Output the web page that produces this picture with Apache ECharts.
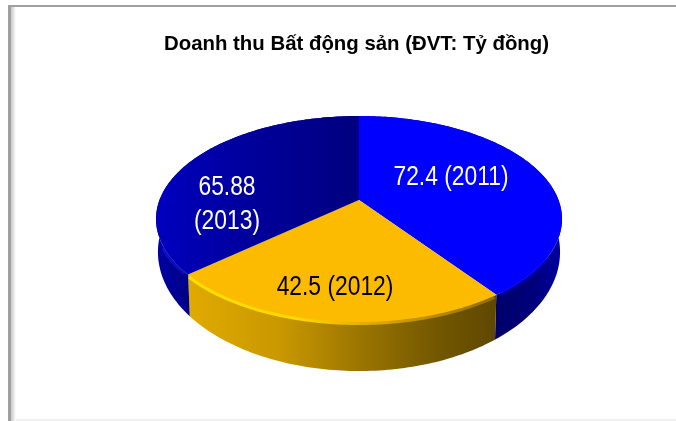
<!DOCTYPE html>
<html>
<head>
<meta charset="utf-8">
<style>
  html, body { margin: 0; padding: 0; background: #fff; }
  #chart { width: 676px; height: 421px; }
</style>
</head>
<body>
<div id="chart"></div>
<script src="https://cdn.jsdelivr.net/npm/echarts@6/dist/echarts.min.js"></script>
<script>
const years = ['2011', '2012', '2013'];
const revenue = [72.4, 42.5, 65.88];
const labelLines = [['72.4 (2011)'], ['42.5 (2012)'], ['65.88', '(2013)']];

// tilted disc: apex on screen plus a perspective factor for the circle
const disc = { x: 359, y: 200, rx: 199.5, ry: 99.5, k: 0.1845 };
const floor = { x: 359, y: 230, rx: 197.6, ry: 115, k: 0.1845 };
const labelCentres = [[451, 177], [335, 287], [227, 204]];
// part of the front edge that gets a bevel, per slice
const rimRanges = [[122, 143], [145, 228], [230, 244]];

const total = revenue.reduce((a, b) => a + b, 0);

const project = (d, deg) => {
  const t = deg * Math.PI / 180;
  const w = -Math.cos(t);
  const den = 1 - d.k * w;
  return [d.x + d.rx * Math.sin(t) / den, d.y + d.ry * w / den];
};

const arc = (d, from, to) => {
  const pts = [];
  for (let a = from; a <= to; a += 1) pts.push(project(d, a));
  pts.push(project(d, to));
  return pts;
};

const hGrad = (x, x2, stops) => ({
  type: 'linear', global: true, x: x, y: 0, x2: x2, y2: 0,
  colorStops: stops.map(s => ({ offset: s[0], color: s[1] }))
});

const topFills = [
  '#0000ff',
  '#fdbb00',
  hGrad(155, 359, [[0, '#0000c0'], [0.45, '#00009c'], [1, '#000080']])
];
const wallFills = [
  hGrad(497, 561, [[0, '#00006a'], [0.6, '#00007c'], [1, '#0000a0']]),
  hGrad(188, 497, [[0, '#e0aa00'], [0.3, '#c99800'], [0.55, '#9c7600'], [0.8, '#745800'], [1, '#5e4700']]),
  hGrad(155, 192, [[0, '#0000a8'], [1, '#000084']])
];
const rimColors = [
  'rgba(0,0,200,0.6)',
  hGrad(188, 497, [[0, '#ffe000'], [0.35, '#ffd800'], [0.6, '#e0a800'], [1, '#8f6c00']]),
  'rgba(30,30,225,0.45)'
];
const textColors = ['#fff', '#000', '#fff'];

const renderSlice = (params, api) => {
  const i = params.dataIndex;
  const start = api.value(1) / total * 360;
  const end = start + api.value(0) / total * 360;
  const top = arc(disc, start, end);
  const wall = top.concat(arc(floor, start, end).reverse());
  const lines = labelLines[i];
  const centre = labelCentres[i];

  const children = [
    { type: 'polygon', z2: 1, shape: { points: wall }, style: { fill: wallFills[i] } },
    { type: 'polygon', z2: 3, shape: { points: [[disc.x, disc.y]].concat(top) }, style: { fill: topFills[i] } }
  ];
  // soft bevel where the top meets the wall
  children.push({
    type: 'polyline', z2: 2,
    shape: { points: arc(disc, rimRanges[i][0], rimRanges[i][1]) },
    style: { fill: 'none', stroke: rimColors[i], lineWidth: 6 }
  });
  lines.forEach((line, n) => {
    children.push({
      type: 'text', z2: 5,
      x: centre[0],
      y: centre[1] + (n - (lines.length - 1) / 2) * 34,
      scaleX: 0.815,
      style: {
        text: line,
        fill: textColors[i],
        font: '28px "Liberation Sans", sans-serif',
        align: 'center',
        verticalAlign: 'middle'
      }
    });
  });
  return { type: 'group', children };
};

let running = 0;
const sliceData = revenue.map((v, i) => {
  const row = { name: years[i], value: [v, running] };
  running += v;
  return row;
});

const chart = echarts.init(document.getElementById('chart'), null, { renderer: 'canvas' });
chart.setOption({
  animation: false,
  backgroundColor: '#fff',
  title: {
    text: 'Doanh thu Bất động sản (ĐVT: Tỷ đồng)',
    left: 351.5,
    top: 29,
    textAlign: 'center',
    textStyle: { fontFamily: '"Liberation Sans", Arial, sans-serif', fontSize: 20.4, fontWeight: 'bold', color: '#000' }
  },
  graphic: [
    // sheet border with its inner shadow on the left
    { type: 'rect', silent: true, shape: { x: 8, y: 5, width: 668, height: 2 }, style: { fill: '#a0a0a0' } },
    { type: 'rect', silent: true, shape: { x: 8, y: 5, width: 3, height: 416 }, style: { fill: '#a0a0a0' } },
    {
      type: 'rect', silent: true, shape: { x: 11, y: 7, width: 5, height: 414 },
      style: { fill: { type: 'linear', x: 0, y: 0, x2: 1, y2: 0, colorStops: [{ offset: 0, color: '#c8c8c8' }, { offset: 1, color: '#ffffff' }] } }
    },
    { type: 'rect', silent: true, shape: { x: 16, y: 419, width: 660, height: 2 }, style: { fill: '#f0f0f0' } }
  ],
  series: [{
    type: 'custom',
    coordinateSystem: 'none',
    renderItem: renderSlice,
    data: sliceData,
    silent: true
  }]
});

window.addEventListener('resize', () => chart.resize());
</script>
</body>
</html>
